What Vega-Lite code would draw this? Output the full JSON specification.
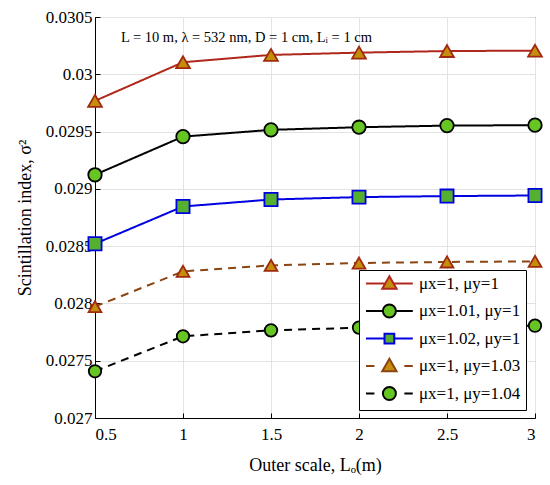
{
  "$schema": "https://vega.github.io/schema/vega-lite/v6.json",
  "width": 440,
  "height": 401,
  "autosize": {"type": "none"},
  "padding": {"left": 95, "top": 17, "right": 15, "bottom": 67},
  "background": "white",
  "config": {
    "font": "Liberation Serif, Times New Roman, DejaVu Serif, serif",
    "view": {"stroke": "black", "strokeWidth": 1},
    "axis": {
      "labelFont": "Liberation Serif, Times New Roman, DejaVu Serif, serif",
      "titleFont": "Liberation Serif, Times New Roman, DejaVu Serif, serif",
      "labelFontSize": 17,
      "titleFontSize": 18,
      "labelColor": "black",
      "titleColor": "black",
      "titleFontWeight": "normal",
      "domainColor": "black",
      "tickColor": "black",
      "gridColor": "#e3e3e3",
      "gridWidth": 1
    },
    "legend": {
      "labelFont": "Liberation Serif, Times New Roman, DejaVu Serif, serif"
    }
  },
  "title": {
    "text": "L = 10 m, λ = 532 nm, D = 1 cm, Lᵢ = 1 cm",
    "orient": "top",
    "anchor": "start",
    "frame": "group",
    "offset": -37,
    "dx": 26,
    "fontSize": 14.5,
    "fontWeight": "normal",
    "font": "Liberation Serif, Times New Roman, DejaVu Serif, serif",
    "color": "black"
  },
  "data": {
    "values": [
      {"Lo": 0.5, "sigma2": 0.029768, "series": "μx=1, μy=1"},
      {"Lo": 1.0, "sigma2": 0.030105, "series": "μx=1, μy=1"},
      {"Lo": 1.5, "sigma2": 0.030169, "series": "μx=1, μy=1"},
      {"Lo": 2.0, "sigma2": 0.030189, "series": "μx=1, μy=1"},
      {"Lo": 2.5, "sigma2": 0.030203, "series": "μx=1, μy=1"},
      {"Lo": 3.0, "sigma2": 0.030206, "series": "μx=1, μy=1"},
      {"Lo": 0.5, "sigma2": 0.029123, "series": "μx=1.01, μy=1"},
      {"Lo": 1.0, "sigma2": 0.029456, "series": "μx=1.01, μy=1"},
      {"Lo": 1.5, "sigma2": 0.029515, "series": "μx=1.01, μy=1"},
      {"Lo": 2.0, "sigma2": 0.029538, "series": "μx=1.01, μy=1"},
      {"Lo": 2.5, "sigma2": 0.029552, "series": "μx=1.01, μy=1"},
      {"Lo": 3.0, "sigma2": 0.029556, "series": "μx=1.01, μy=1"},
      {"Lo": 0.5, "sigma2": 0.028521, "series": "μx=1.02, μy=1"},
      {"Lo": 1.0, "sigma2": 0.028846, "series": "μx=1.02, μy=1"},
      {"Lo": 1.5, "sigma2": 0.028907, "series": "μx=1.02, μy=1"},
      {"Lo": 2.0, "sigma2": 0.028928, "series": "μx=1.02, μy=1"},
      {"Lo": 2.5, "sigma2": 0.028937, "series": "μx=1.02, μy=1"},
      {"Lo": 3.0, "sigma2": 0.028942, "series": "μx=1.02, μy=1"},
      {"Lo": 0.5, "sigma2": 0.027972, "series": "μx=1, μy=1.03"},
      {"Lo": 1.0, "sigma2": 0.028280, "series": "μx=1, μy=1.03"},
      {"Lo": 1.5, "sigma2": 0.028332, "series": "μx=1, μy=1.03"},
      {"Lo": 2.0, "sigma2": 0.028353, "series": "μx=1, μy=1.03"},
      {"Lo": 2.5, "sigma2": 0.028362, "series": "μx=1, μy=1.03"},
      {"Lo": 3.0, "sigma2": 0.028367, "series": "μx=1, μy=1.03"},
      {"Lo": 0.5, "sigma2": 0.027408, "series": "μx=1, μy=1.04"},
      {"Lo": 1.0, "sigma2": 0.027713, "series": "μx=1, μy=1.04"},
      {"Lo": 1.5, "sigma2": 0.027765, "series": "μx=1, μy=1.04"},
      {"Lo": 2.0, "sigma2": 0.027789, "series": "μx=1, μy=1.04"},
      {"Lo": 2.5, "sigma2": 0.027800, "series": "μx=1, μy=1.04"},
      {"Lo": 3.0, "sigma2": 0.027806, "series": "μx=1, μy=1.04"}
    ]
  },
  "encoding": {
    "x": {
      "field": "Lo",
      "type": "quantitative",
      "scale": {"domain": [0.5, 3], "nice": false, "zero": false},
      "axis": {
        "values": [0.5, 1, 1.5, 2, 2.5, 3],
        "format": "~g",
        "tickSize": -5,
        "labelPadding": 13,
        "labelFont": "Liberation Serif",
        "titleFont": "Liberation Serif",
        "title": "Outer scale, Lₒ(m)",
        "titlePadding": 14
      }
    },
    "y": {
      "field": "sigma2",
      "type": "quantitative",
      "scale": {"domain": [0.027, 0.0305], "nice": false, "zero": false},
      "axis": {
        "values": [0.027, 0.0275, 0.028, 0.0285, 0.029, 0.0295, 0.03, 0.0305],
        "format": ".3~r",
        "tickSize": -5,
        "labelPadding": 8,
        "labelFont": "Liberation Serif",
        "titleFont": "Liberation Serif",
        "title": "Scintillation index, σ²",
        "titlePadding": 11
      }
    }
  },
  "layer": [
    {
      "mark": {"type": "line", "strokeWidth": 2},
      "encoding": {
        "color": {
          "field": "series",
          "type": "nominal",
          "scale": {
            "domain": ["μx=1, μy=1", "μx=1.01, μy=1", "μx=1.02, μy=1", "μx=1, μy=1.03", "μx=1, μy=1.04"],
            "range": ["#b0281c", "#000000", "#0000e0", "#8b4513", "#000000"]
          },
          "legend": null
        },
        "strokeDash": {
          "field": "series",
          "type": "nominal",
          "scale": {
            "domain": ["μx=1, μy=1", "μx=1.01, μy=1", "μx=1.02, μy=1", "μx=1, μy=1.03", "μx=1, μy=1.04"],
            "range": [[1, 0], [1, 0], [1, 0], [8, 6], [8, 6]]
          },
          "legend": null
        }
      }
    },
    {
      "mark": {"type": "point", "filled": false, "opacity": 1, "strokeWidth": 1.8},
      "encoding": {
        "shape": {
          "field": "series",
          "type": "nominal",
          "scale": {
            "domain": ["μx=1, μy=1", "μx=1.01, μy=1", "μx=1.02, μy=1", "μx=1, μy=1.03", "μx=1, μy=1.04"],
            "range": ["triangle-up", "circle", "square", "triangle-up", "circle"]
          },
          "legend": null
        },
        "size": {
          "field": "series",
          "type": "nominal",
          "scale": {
            "domain": ["μx=1, μy=1", "μx=1.01, μy=1", "μx=1.02, μy=1", "μx=1, μy=1.03", "μx=1, μy=1.04"],
            "range": [190, 155, 72, 190, 155]
          },
          "legend": null
        },
        "fill": {
          "field": "series",
          "type": "nominal",
          "scale": {
            "domain": ["μx=1, μy=1", "μx=1.01, μy=1", "μx=1.02, μy=1", "μx=1, μy=1.03", "μx=1, μy=1.04"],
            "range": ["#c58d0c", "#66c522", "#55b030", "#c58d0c", "#66c522"]
          },
          "legend": null
        },
        "stroke": {
          "field": "series",
          "type": "nominal",
          "scale": {
            "domain": ["μx=1, μy=1", "μx=1.01, μy=1", "μx=1.02, μy=1", "μx=1, μy=1.03", "μx=1, μy=1.04"],
            "range": ["#a02a10", "#000000", "#0000e0", "#a02a10", "#000000"]
          },
          "legend": null
        }
      }
    },
    {
      "transform": [{"filter": "datum.Lo < 0"}],
      "mark": {"type": "point", "filled": false, "opacity": 1},
      "encoding": {
        "shape": {
          "field": "series",
          "type": "nominal",
          "scale": {
            "domain": ["μx=1, μy=1", "μx=1.01, μy=1", "μx=1.02, μy=1", "μx=1, μy=1.03", "μx=1, μy=1.04"],
            "range": [
              "M-1,0H1.98M3.22,0H6.2M2.6,-1.1L3.7,0.8L1.5,0.8Z",
              "M-1,0H1.6M3.6,0H6.2M3.6,0A1,1 0 1,1 1.6,0A1,1 0 1,1 3.6,0Z",
              "M-1,0H1.85M3.35,0H6.2M1.85,-0.75H3.35V0.75H1.85Z",
              "M-1,0H0.3M4.9,0H6.2M2.6,-1.1L3.7,0.8L1.5,0.8Z",
              "M-1,0H0.3M4.9,0H6.2M3.6,0A1,1 0 1,1 1.6,0A1,1 0 1,1 3.6,0Z"
            ]
          },
          "legend": {
            "title": null,
            "orient": "none",
            "legendX": 264,
            "legendY": 253,
            "fillColor": "white",
            "strokeColor": "black",
            "padding": 5,
            "symbolSize": 169,
            "symbolStrokeWidth": 2,
            "labelFont": "Liberation Serif",
            "labelFontSize": 17,
            "labelColor": "black",
            "labelOffset": 38,
            "rowPadding": 6.5,
            "labelLimit": 300
          }
        },
        "fill": {
          "field": "series",
          "type": "nominal",
          "scale": {
            "domain": ["μx=1, μy=1", "μx=1.01, μy=1", "μx=1.02, μy=1", "μx=1, μy=1.03", "μx=1, μy=1.04"],
            "range": ["#c58d0c", "#66c522", "#55b030", "#c58d0c", "#66c522"]
          }
        },
        "stroke": {
          "field": "series",
          "type": "nominal",
          "scale": {
            "domain": ["μx=1, μy=1", "μx=1.01, μy=1", "μx=1.02, μy=1", "μx=1, μy=1.03", "μx=1, μy=1.04"],
            "range": ["#b0281c", "#000000", "#0000e0", "#8b4513", "#000000"]
          }
        }
      }
    }
  ],
  "resolve": {
    "scale": {"shape": "independent", "fill": "independent", "stroke": "independent", "size": "independent"},
    "legend": {"shape": "independent", "fill": "independent", "stroke": "independent"}
  }
}
